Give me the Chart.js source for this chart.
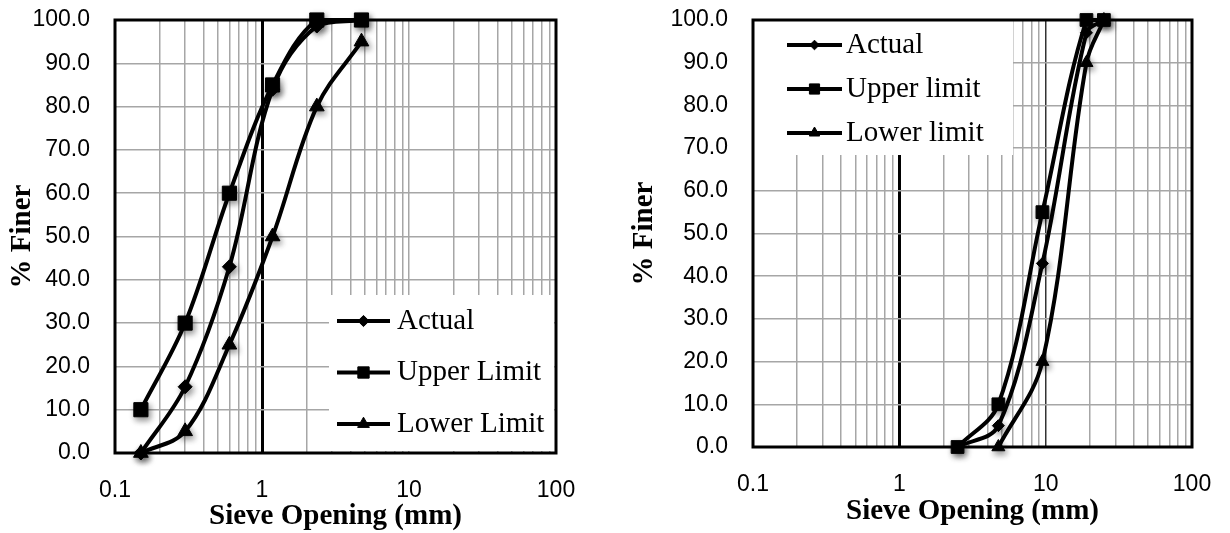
<!DOCTYPE html>
<html>
<head>
<meta charset="utf-8">
<title>Sieve analysis</title>
<script src="https://cdn.jsdelivr.net/npm/chart.js@4/dist/chart.umd.min.js"></script>
<style>
  html, body { margin: 0; padding: 0; background: #fff; }
  #wrap { position: relative; width: 1230px; height: 533px; overflow: hidden; }
  #wrap canvas { position: absolute; top: 0; }
</style>
</head>
<body>
<div id="wrap">
  <canvas id="fineChart" width="615" height="533" style="left:0"></canvas>
  <canvas id="coarseChart" width="615" height="533" style="left:615px"></canvas>
</div>
<script>
// fine aggregate gradation (sieve size in mm, % passing)
const fineSieves = [0.15, 0.3, 0.6, 1.18, 2.36, 4.75];
const fineActual = [0, 15.3, 43, 84, 98.6, 100];
const fineUpper = [10, 30, 60, 85, 100, 100];
const fineLower = [0, 5, 25, 50, 80, 95];

// coarse aggregate gradation
const coarseSieves = [2.5, 4.75, 9.5, 19, 25];
const coarseActual = [0, 5, 43, 97, 100];
const coarseUpper = [0, 10, 55, 100, 100];
const coarseLowerSieves = [4.75, 9.5, 19, 25];
const coarseLower = [0, 20, 90, 100];

// axis ticks
const percentTicks = [0, 10, 20, 30, 40, 50, 60, 70, 80, 90, 100];
const sieveTicks = [
  0.1, 0.2, 0.3, 0.4, 0.5, 0.6, 0.7, 0.8, 0.9,
  1, 2, 3, 4, 5, 6, 7, 8, 9,
  10, 20, 30, 40, 50, 60, 70, 80, 90, 100
];
const sieveLabels = [0.1, 1, 10, 100];

const GRID = '#a6a6a6';

// soft drop shadow under the markers only
const basePointDraw = Chart.PointElement.prototype.draw;
Chart.PointElement.prototype.draw = function (ctx, area) {
  ctx.save();
  ctx.shadowColor = 'rgba(0,0,0,0.45)';
  ctx.shadowBlur = 6;
  ctx.shadowOffsetX = 2;
  ctx.shadowOffsetY = 3;
  basePointDraw.call(this, ctx, area);
  ctx.restore();
};

function pairs(xs, ys) {
  return xs.map((x, i) => ({ x: x, y: ys[i] }));
}

function series(label, xs, ys, style, radius) {
  return {
    label: label,
    data: pairs(xs, ys),
    borderColor: '#000',
    backgroundColor: '#000',
    borderWidth: 4,
    pointStyle: style,
    pointRadius: radius,
    pointBorderWidth: 1,
    pointBackgroundColor: '#000',
    pointBorderColor: '#000',
    tension: 0.35,
    clip: false
  };
}

// label overhang must not push the plot area around
function noPad(s) {
  s.paddingTop = 0;
  s.paddingBottom = 0;
  s.paddingLeft = 0;
  s.paddingRight = 0;
}

// white legend panel inside the plot, plus the black frame round the plot
const legendPanel = {
  id: 'legendPanel',
  beforeDatasetsDraw(chart, args, opts) {
    const ctx = chart.ctx;
    ctx.save();
    ctx.fillStyle = '#fff';
    ctx.fillRect(opts.x, opts.y, opts.w, opts.h);
    chart.data.datasets.forEach((ds, i) => {
      const y = opts.rowY + i * opts.rowGap;
      ctx.strokeStyle = '#000';
      ctx.fillStyle = '#000';
      ctx.lineWidth = 4;
      ctx.beginPath();
      ctx.moveTo(opts.lineX, y);
      ctx.lineTo(opts.lineX + opts.lineW, y);
      ctx.stroke();
      ctx.lineWidth = 1;
      Chart.helpers.drawPoint(ctx, {
        pointStyle: ds.pointStyle,
        radius: ds.pointRadius * 0.8,
        rotation: 0,
        borderWidth: 1
      }, opts.lineX + opts.lineW / 2, y);
      ctx.font = '29px "Liberation Serif"';
      ctx.textBaseline = 'middle';
      ctx.textAlign = 'left';
      ctx.fillText(ds.label, opts.textX, y);
    });
    const a = chart.chartArea;
    ctx.lineWidth = 3;
    ctx.strokeStyle = '#000';
    ctx.strokeRect(a.left, a.top, a.right - a.left, a.bottom - a.top);
    ctx.restore();
  }
};

function buildOptions(o) {
  return {
    responsive: false,
    animation: false,
    events: [],
    layout: { padding: { top: 20, right: o.padRight, left: 0, bottom: 0 } },
    plugins: {
      legend: { display: false },
      tooltip: { enabled: false },
      legendPanel: o.legend
    },
    scales: {
      x: {
        type: 'logarithmic',
        min: 0.1,
        max: 100,
        afterBuildTicks: s => { s.ticks = sieveTicks.map(v => ({ value: v })); },
        afterFit: s => { s.height = o.xHeight; noPad(s); },
        border: { display: false },
        grid: {
          drawTicks: false,
          color: c => (c.tick && c.tick.value === 1) ? '#000' :
                      (c.tick && o.darkTen && c.tick.value === 10) ? '#333' : GRID,
          lineWidth: c => (c.tick && c.tick.value === 1) ? 3 : 1.5
        },
        ticks: {
          autoSkip: false,
          maxRotation: 0,
          padding: 24,
          color: '#000',
          font: { family: 'Liberation Sans', size: 23 },
          callback: v => sieveLabels.includes(v) ? String(v) : ''
        },
        title: {
          display: true,
          text: 'Sieve Opening (mm)',
          color: '#000',
          font: { family: 'Liberation Serif', size: 29, weight: 'bold', lineHeight: 1 },
          padding: { top: 0, bottom: o.xTitlePad }
        }
      },
      y: {
        min: 0,
        max: 100,
        afterBuildTicks: s => { s.ticks = percentTicks.map(v => ({ value: v })); },
        afterFit: s => { s.width = o.yWidth; noPad(s); },
        border: { display: false },
        grid: { drawTicks: false, color: GRID, lineWidth: 1.5 },
        ticks: {
          padding: 25,
          color: '#000',
          font: { family: 'Liberation Sans', size: 23 },
          callback: v => v.toFixed(1)
        },
        title: {
          display: true,
          text: '% Finer',
          color: '#000',
          font: { family: 'Liberation Serif', size: 29, weight: 'bold', lineHeight: 1 },
          padding: { top: o.yTitlePad, bottom: 0 }
        }
      }
    }
  };
}

new Chart(document.getElementById('fineChart'), {
  type: 'line',
  data: {
    datasets: [
      series('Actual', fineSieves, fineActual, 'rectRot', 7),
      series('Upper Limit', fineSieves, fineUpper, 'rect', 10),
      series('Lower Limit', fineSieves, fineLower, 'triangle', 8.5)
    ]
  },
  options: buildOptions({
    padRight: 59, xHeight: 80, yWidth: 115, xTitlePad: 1.5, yTitlePad: 8.5, darkTen: false,
    legend: { x: 329, y: 295, w: 225, h: 156, lineX: 337, lineW: 53, textX: 397, rowY: 321, rowGap: 51.5 }
  }),
  plugins: [legendPanel]
});

new Chart(document.getElementById('coarseChart'), {
  type: 'line',
  data: {
    datasets: [
      series('Actual', coarseSieves, coarseActual, 'rectRot', 6),
      series('Upper limit', coarseSieves, coarseUpper, 'rect', 9),
      series('Lower limit', coarseLowerSieves, coarseLower, 'triangle', 7.5)
    ]
  },
  options: buildOptions({
    padRight: 38, xHeight: 86, yWidth: 138, xTitlePad: 6.5, yTitlePad: 15.5, darkTen: true,
    legend: { x: 139, y: 21, w: 259, h: 134, lineX: 172, lineW: 55, textX: 231, rowY: 45, rowGap: 44 }
  }),
  plugins: [legendPanel]
});
</script>
</body>
</html>
